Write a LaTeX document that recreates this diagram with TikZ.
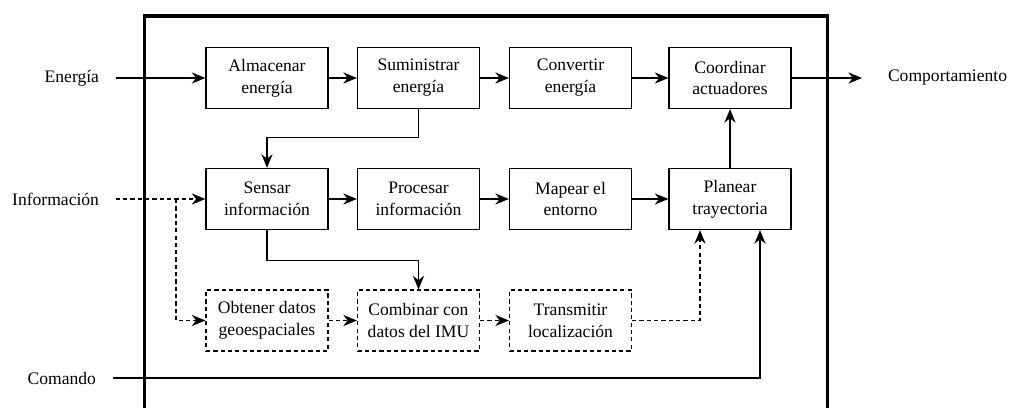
\documentclass[tikz,border=0pt]{standalone}
\usepackage{fontspec}
\setmainfont{Liberation Serif}
\usetikzlibrary{arrows.meta,positioning}

\begin{document}
\begin{tikzpicture}[
        font=\fontsize{12.5}{15.6}\selectfont,
        box/.style={draw, line width=0.9pt, minimum width=3.05cm, minimum height=1.525cm, inner sep=0pt, align=center},
        dbox/.style={box, dash pattern=on 3pt off 2.2pt},
        lbl/.style={inner sep=0pt, outer sep=0pt},
        flow/.style={line width=1pt, -{Stealth[length=3.4mm, width=2.8mm, inset=1.1mm]}},
        dflow/.style={flow, dash pattern=on 3pt off 2.2pt},
        frame/.style={line width=2.2pt}
    ]
        \clip (0,0) rectangle (25.325,-10.2);
        \draw[frame] (3.6125,-10.6) |- (20.6875,-0.4) -- (20.6875,-10.6);

        % fila de energia
        \node[box] (alm) at (6.675,-1.95) {Almacenar\\energía};
        \node[box] (sum) at (10.4625,-1.95) {Suministrar\\energía};
        \node[box] (conv) at (14.2625,-1.95) {Convertir\\energía};
        \node[box] (coord) at (18.25,-1.95) {Coordinar\\actuadores};

        % fila de informacion
        \node[box] (sen) at (6.675,-4.975) {Sensar\\información};
        \node[box] (proc) at (10.4625,-4.975) {Procesar\\información};
        \node[box] (map) at (14.2625,-4.975) {Mapear el\\entorno};
        \node[box] (plan) at (18.25,-4.975) {Planear\\trayectoria};

        % localizacion
        \node[dbox] (obt) at (6.675,-8.0125) {Obtener datos\\geoespaciales};
        \node[dbox] (comb) at (10.4625,-8.0125) {Combinar con\\datos del IMU};
        \node[dbox] (trans) at (14.2625,-8.0125) {Transmitir\\localización};

        % entradas y salida
        \node[lbl, anchor=east] (ener) at (2.475,-1.95) {Energía};
        \node[lbl, anchor=east] (info) at (2.475,-4.975) {Información};
        \node[lbl, anchor=east] (cmd) at (2.4,-9.45) {Comando};
        \node[lbl, anchor=west] (comp) at (22.2,-1.95) {Comportamiento};
        \coordinate (split) at (4.4,-4.975);

        \draw[flow, shorten <=0.42cm] (ener) -- (alm);
        \draw[flow] (alm) -- (sum);
        \draw[flow] (sum) -- (conv);
        \draw[flow] (conv) -- (coord);
        \draw[flow, shorten >=0.65cm] (coord) -- (comp);
        \draw[flow] (sum.south) -- ++(0,-0.71) -| (sen.north);

        \draw[dflow, shorten <=0.42cm] (info) -- (sen);
        \draw[dflow] (split) |- (obt.west);
        \draw[flow] (sen) -- (proc);
        \draw[flow] (proc) -- (map);
        \draw[flow] (map) -- (plan);
        \draw[flow] (plan) -- (coord);
        \draw[flow] (sen.south) -- ++(0,-0.76) -| (comb.north);

        \draw[dflow] (obt) -- (comb);
        \draw[dflow] (comb) -- (trans);
        \draw[dflow] (trans.east) -| ([xshift=-0.75cm]plan.south);
        \draw[flow, shorten <=0.42cm] (cmd) -| ([xshift=0.75cm]plan.south);
    \end{tikzpicture}
\end{document}
